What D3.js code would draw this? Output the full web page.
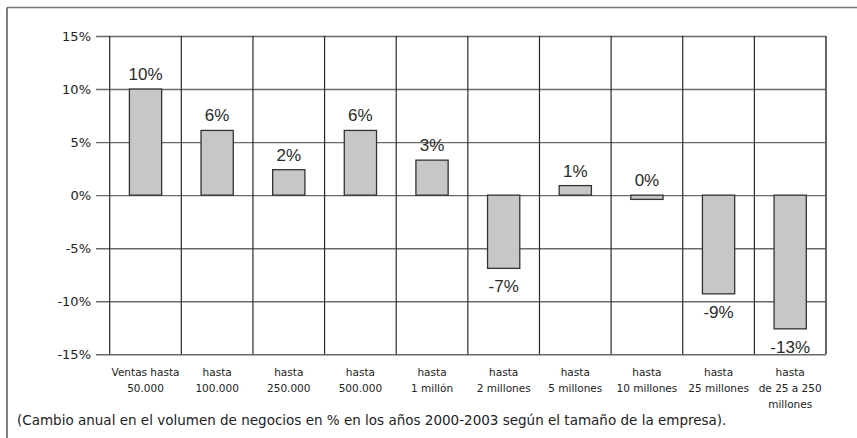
<!DOCTYPE html>
<html lang="es">
<head>
<meta charset="utf-8">
<script src="https://cdn.jsdelivr.net/npm/d3@7"></script>
<style>
  html, body { margin: 0; padding: 0; background: #fff; }
  svg { display: block; }
</style>
</head>
<body>
<svg id="chart" width="857" height="438"></svg>
<script>
// Company-size classes (two or three lines per label)
const categories = [
  ["Ventas hasta", "50.000"],
  ["hasta", "100.000"],
  ["hasta", "250.000"],
  ["hasta", "500.000"],
  ["hasta", "1 millón"],
  ["hasta", "2 millones"],
  ["hasta", "5 millones"],
  ["hasta", "10 millones"],
  ["hasta", "25 millones"],
  ["hasta", "de 25 a 250", "millones"]
];

// Annual change in business volume, %, 2000-2003
const values = [10.0, 6.1, 2.4, 6.1, 3.3, -6.9, 0.9, -0.4, -9.3, -12.6];

// Y axis ticks
const yTicks = [-15, -10, -5, 0, 5, 10, 15];

const caption = "(Cambio anual en el volumen de negocios en % en los años 2000-2003 según el tamaño de la empresa).";

const svg = d3.select("#chart");

const plot = { left: 109.7, right: 826, top: 36, bottom: 354.3 };

const x = d3.scaleBand()
  .domain(d3.range(categories.length))
  .range([plot.left, plot.right])
  .paddingInner(0)
  .paddingOuter(0);

const y = d3.scaleLinear()
  .domain([-15, 15])
  .range([plot.bottom, plot.top]);

// Outer frame (top and left edges)
svg.append("line")
  .attr("x1", 7).attr("x2", 857).attr("y1", 7.5).attr("y2", 7.5)
  .attr("stroke", "#777").attr("stroke-width", 1.5);
svg.append("line")
  .attr("x1", 7).attr("x2", 7).attr("y1", 7.5).attr("y2", 438)
  .attr("stroke", "#555").attr("stroke-width", 1.5);

// Y axis: tick lines run across the plot as horizontal grid
const yAxis = d3.axisLeft(y)
  .tickValues(yTicks)
  .tickFormat(d => d + "%")
  .tickSize(plot.right - 96)
  .tickPadding(5);

const gy = svg.append("g")
  .attr("transform", `translate(${plot.right},0)`)
  .call(yAxis);
gy.select(".domain").remove();
gy.selectAll(".tick line")
  .attr("stroke", "#6a6a6a")
  .attr("stroke-width", 1.4);
gy.selectAll(".tick text")
  .attr("font-family", "'DejaVu Sans', Verdana, sans-serif")
  .attr("font-size", 13)
  .attr("fill", "#222");

// Vertical grid between categories
const edges = categories.map((c, i) => x(i)).concat([x(categories.length - 1) + x.bandwidth()]);
svg.append("g")
  .selectAll("line")
  .data(edges)
  .join("line")
  .attr("x1", d => d).attr("x2", d => d)
  .attr("y1", plot.top).attr("y2", plot.bottom)
  .attr("stroke", (d, i) => i === edges.length - 1 ? "#555" : "#2a2a2a")
  .attr("stroke-width", (d, i) => i === edges.length - 1 ? 1.8 : 1.2);

// Bars
const barW = x.bandwidth() * 0.45;
svg.append("g")
  .selectAll("rect")
  .data(values)
  .join("rect")
  .attr("x", (d, i) => x(i) + (x.bandwidth() - barW) / 2)
  .attr("y", d => y(Math.max(0, d)))
  .attr("width", barW)
  .attr("height", d => Math.abs(y(d) - y(0)))
  .attr("fill", "#c6c7c8")
  .attr("stroke", "#333")
  .attr("stroke-width", 1.3);

// Value labels: rounded percentage above or below each bar
const fmt = d => `${Math.round(d) === 0 ? 0 : Math.round(d)}%`;
svg.append("g")
  .selectAll("text")
  .data(values)
  .join("text")
  .attr("x", (d, i) => x(i) + x.bandwidth() / 2)
  .attr("y", d => Math.round(d) >= 0
    ? Math.min(y(Math.max(0, d)), y(0)) - 9
    : y(d) + 24)
  .attr("text-anchor", "middle")
  .attr("font-family", "'Liberation Sans', Arial, sans-serif")
  .attr("font-size", 17)
  .attr("fill", "#2a2a2a")
  .text(fmt);

// Category labels under the plot
const cat = svg.append("g")
  .selectAll("text")
  .data(categories)
  .join("text")
  .attr("text-anchor", "middle")
  .attr("font-family", "'DejaVu Sans', Verdana, sans-serif")
  .attr("font-size", 10.5)
  .attr("fill", "#222");
cat.selectAll("tspan")
  .data((d, i) => d.map(line => ({ line, i })))
  .join("tspan")
  .attr("x", d => x(d.i) + x.bandwidth() / 2)
  .attr("y", (d, j) => 376 + j * 16)
  .text(d => d.line);

// Caption
svg.append("text")
  .attr("x", 17)
  .attr("y", 425)
  .attr("font-family", "'DejaVu Sans', Verdana, sans-serif")
  .attr("font-size", 13.5)
  .attr("fill", "#222")
  .text(caption);
</script>
</body>
</html>
